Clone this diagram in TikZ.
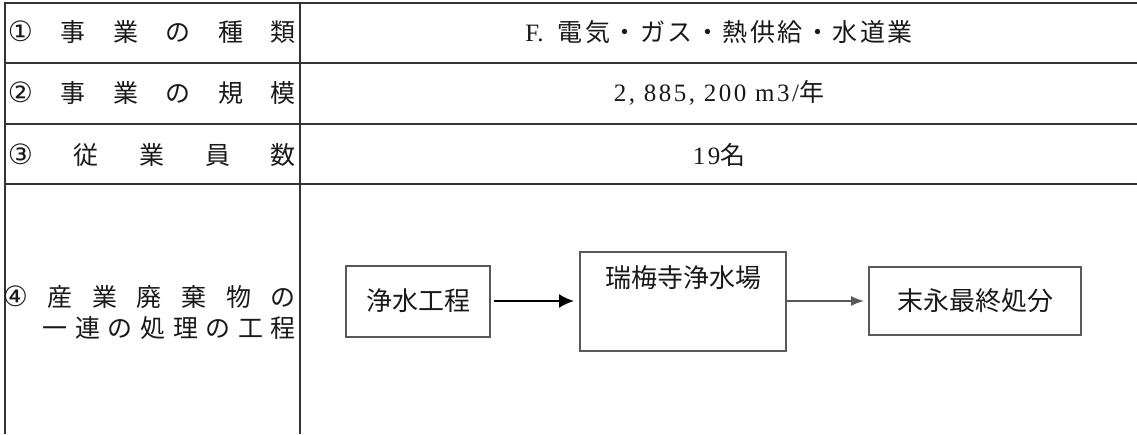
\documentclass[tikz,border=0pt]{standalone}
\usepackage{fontspec}
\setmainfont{Liberation Serif}
\newfontfamily\jp{Noto Sans CJK JP}
\newfontfamily\jpw[LetterSpace=10]{Noto Sans CJK JP}
\newfontfamily\numw[LetterSpace=10]{Liberation Serif}
\newfontfamily\dv{DejaVu Sans}
\newcommand\circnum[1]{{\dv\fontsize{28}{28}\selectfont #1}}
\usetikzlibrary{arrows.meta,positioning}
\begin{document}
\begin{tikzpicture}[x=1pt,y=-1pt,
	rule/.style={draw=black!80,line width=2pt},
	head/.style={anchor=east,inner sep=0pt,font=\jp\fontsize{25}{28}\selectfont,text=black!90},
	val/.style={inner sep=0pt,font=\fontsize{25}{30}\selectfont,text=black!90},
	stage/.style={draw=black!65,line width=2pt,inner sep=0pt,font=\jp\fontsize{26}{30}\selectfont,text=black!90},
	flow/.style={-{Latex[length=15pt,width=14pt]},line width=2pt,shorten <=3pt,shorten >=5pt}]
	\useasboundingbox (0,0) rectangle (1137,434);
	
	\draw[rule] (1137,3) -- (5,3) -- (5,434);
	\draw[rule] (300,3) -- (300,434);
	\foreach \y in {63,124,184} \draw[rule] (5,\y) -- (1137,\y);
	
	\node[head] (kind) at (296,32) {\makebox[288pt][s]{\circnum{①}\hfill 事\hfill 業\hfill の\hfill 種\hfill 類}};
	\node[head] (scale) at (296,93) {\makebox[288pt][s]{\circnum{②}\hfill 事\hfill 業\hfill の\hfill 規\hfill 模}};
	\node[head] (staff) at (296,155) {\makebox[288pt][s]{\circnum{③}\hfill 従\hfill 業\hfill 員\hfill 数}};
	\node[head] (procA) at (296,297) {\makebox[293pt][s]{\circnum{④}\hfill 産\hfill 業\hfill 廃\hfill 棄\hfill 物\hfill の}};
	\node[head] (procB) at (296,328) {\makebox[253pt][s]{一\hfill 連\hfill の\hfill 処\hfill 理\hfill の\hfill 工\hfill 程}};
	
	\node[val] (kindv) at (719,32) {F.\hspace{14pt}{\jpw 電気・ガス・熱供給・水道業}};
	\node[val] (scalev) at (719,93) {{\numw 2, 885, 200 m3/}{\jpw 年}};
	\node[val] (staffv) at (719,155) {{\numw 19}{\jpw 名}};
	
	\node[stage,minimum width=144pt,minimum height=71pt] (jousui) at (418,301) {浄水工程};
	\node[stage,minimum width=206pt,text height=36pt,text depth=63pt] (zuibaiji) at (683,301) {瑞梅寺浄水場};
	\node[stage,minimum width=212pt,minimum height=68pt] (matsunaga) at (975,301) {末永最終処分};
	
	\draw[flow] (jousui) -- (zuibaiji);
	\draw[flow,draw=black!65,fill=black!65,line width=1.5pt,-{Latex[length=13pt,width=10pt]},shorten <=0pt,shorten >=4pt] (zuibaiji) -- (matsunaga);
\end{tikzpicture}
\end{document}
